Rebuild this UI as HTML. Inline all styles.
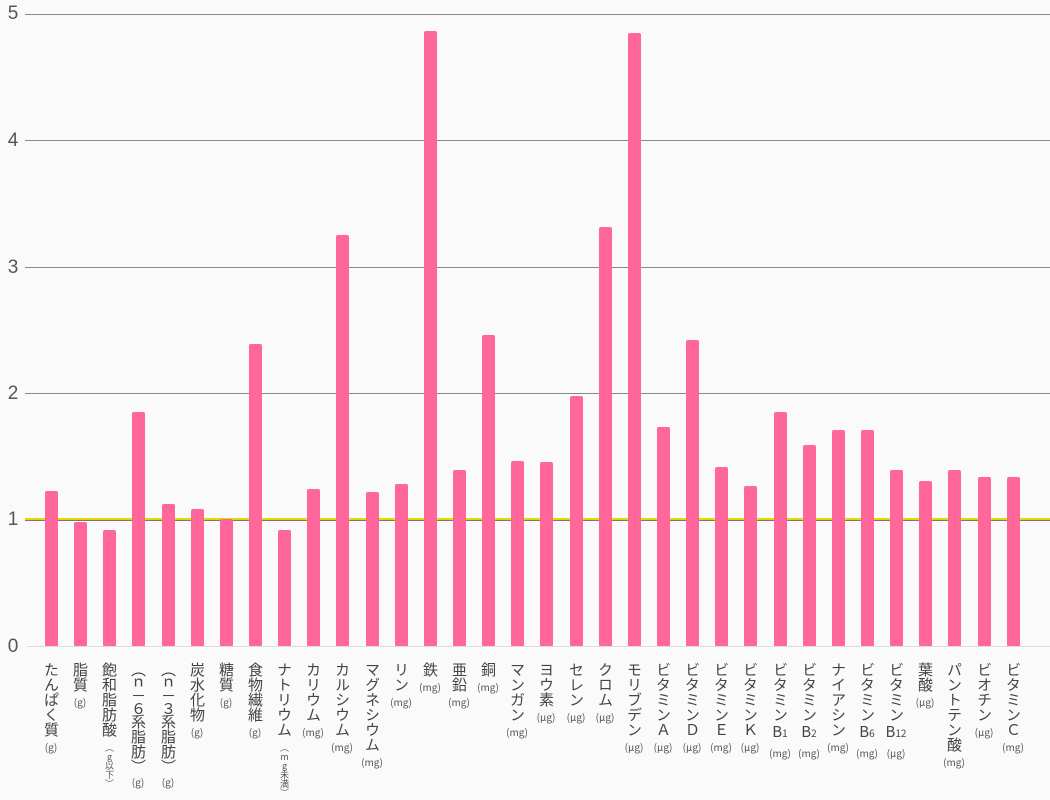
<!DOCTYPE html>
<html><head><meta charset="utf-8"><style>
body{margin:0;background:#fafafa;width:1050px;height:800px;overflow:hidden;position:relative;font-family:"Liberation Sans","Noto Sans CJK JP",sans-serif;color:#444}
.g{position:absolute;left:25px;width:1025px;height:1px;background:#888}
.yl{position:absolute;left:6px;font-size:19px;color:#555;width:14px;text-align:center}
.b{position:absolute;width:13px;background:#ff6699;border-radius:2px 2px 1px 1px;bottom:154px}
.l{position:absolute;top:662px;width:24px;writing-mode:vertical-rl;text-orientation:upright;font-family:"Noto Sans CJK JP",sans-serif;font-size:15px;line-height:24px;color:#444}
.u{font-size:9px;color:#555}
.h{display:inline-block;writing-mode:horizontal-tb;font-size:10px;line-height:13px;color:#555;margin-top:3px}
.bb{display:inline-block;writing-mode:horizontal-tb;font-size:15px;line-height:20px;white-space:nowrap}
.bb small{font-size:10px}
.t{letter-spacing:-2px}
</style></head><body>
<div class="g" style="top:14px"></div>
<div class="g" style="top:140px"></div>
<div class="g" style="top:267px"></div>
<div class="g" style="top:393px"></div>
<div class="g" style="background:#e8d800;height:2px;top:518px"></div>
<div class="g" style="background:#777;height:1px;top:520px"></div>
<div class="g" style="top:646px;background:#ddd;left:27px"></div>
<div class="yl" style="top:3px">5</div>
<div class="yl" style="top:130px">4</div>
<div class="yl" style="top:257px">3</div>
<div class="yl" style="top:383px">2</div>
<div class="yl" style="top:509px">1</div>
<div class="yl" style="top:636px">0</div>

<div class="b" style="left:45px;height:155px"></div>
<div class="b" style="left:74px;height:124px"></div>
<div class="b" style="left:103px;height:116px"></div>
<div class="b" style="left:132px;height:234px"></div>
<div class="b" style="left:162px;height:142px"></div>
<div class="b" style="left:191px;height:137px"></div>
<div class="b" style="left:220px;height:127px"></div>
<div class="b" style="left:249px;height:302px"></div>
<div class="b" style="left:278px;height:116px"></div>
<div class="b" style="left:307px;height:157px"></div>
<div class="b" style="left:336px;height:411px"></div>
<div class="b" style="left:366px;height:154px"></div>
<div class="b" style="left:395px;height:162px"></div>
<div class="b" style="left:424px;height:615px"></div>
<div class="b" style="left:453px;height:176px"></div>
<div class="b" style="left:482px;height:311px"></div>
<div class="b" style="left:511px;height:185px"></div>
<div class="b" style="left:540px;height:184px"></div>
<div class="b" style="left:570px;height:250px"></div>
<div class="b" style="left:599px;height:419px"></div>
<div class="b" style="left:628px;height:613px"></div>
<div class="b" style="left:657px;height:219px"></div>
<div class="b" style="left:686px;height:306px"></div>
<div class="b" style="left:715px;height:179px"></div>
<div class="b" style="left:744px;height:160px"></div>
<div class="b" style="left:774px;height:234px"></div>
<div class="b" style="left:803px;height:201px"></div>
<div class="b" style="left:832px;height:216px"></div>
<div class="b" style="left:861px;height:216px"></div>
<div class="b" style="left:890px;height:176px"></div>
<div class="b" style="left:919px;height:165px"></div>
<div class="b" style="left:948px;height:176px"></div>
<div class="b" style="left:978px;height:169px"></div>
<div class="b" style="left:1007px;height:169px"></div>

<div class="l" style="left:39px">たんぱく質<span class="h">(g)</span></div>
<div class="l" style="left:68px">脂質<span class="h">(g)</span></div>
<div class="l" style="left:97px">飽和脂肪酸<span class="u" style="margin-top:6px">（g以下）</span></div>
<div class="l" style="left:126px"><span class="t">（ｎ－６</span>系脂肪<span class="t">）</span><span class="h">(g)</span></div>
<div class="l" style="left:156px"><span class="t">（ｎ－３</span>系脂肪<span class="t">）</span><span class="h">(g)</span></div>
<div class="l" style="left:185px">炭水化物<span class="h">(g)</span></div>
<div class="l" style="left:214px">糖質<span class="h">(g)</span></div>
<div class="l" style="left:243px">食物繊維<span class="h">(g)</span></div>
<div class="l" style="left:272px">ナトリウム<span class="u" style="margin-top:6px">（mg未満）</span></div>
<div class="l" style="left:301px">カリウム<span class="h">(mg)</span></div>
<div class="l" style="left:330px">カルシウム<span class="h">(mg)</span></div>
<div class="l" style="left:360px">マグネシウム<span class="h">(mg)</span></div>
<div class="l" style="left:389px">リン<span class="h">(mg)</span></div>
<div class="l" style="left:418px">鉄<span class="h">(mg)</span></div>
<div class="l" style="left:447px">亜鉛<span class="h">(mg)</span></div>
<div class="l" style="left:476px">銅<span class="h">(mg)</span></div>
<div class="l" style="left:505px">マンガン<span class="h">(mg)</span></div>
<div class="l" style="left:534px">ヨウ素<span class="h">(μg)</span></div>
<div class="l" style="left:564px">セレン<span class="h">(μg)</span></div>
<div class="l" style="left:593px">クロム<span class="h">(μg)</span></div>
<div class="l" style="left:622px">モリブデン<span class="h">(μg)</span></div>
<div class="l" style="left:651px">ビタミンＡ<span class="h">(μg)</span></div>
<div class="l" style="left:680px">ビタミンＤ<span class="h">(μg)</span></div>
<div class="l" style="left:709px">ビタミンＥ<span class="h">(mg)</span></div>
<div class="l" style="left:738px">ビタミンＫ<span class="h">(μg)</span></div>
<div class="l" style="left:768px">ビタミン<span class="bb">B<small>1</small></span><span class="h">(mg)</span></div>
<div class="l" style="left:797px">ビタミン<span class="bb">B<small>2</small></span><span class="h">(mg)</span></div>
<div class="l" style="left:826px">ナイアシン<span class="h">(mg)</span></div>
<div class="l" style="left:855px">ビタミン<span class="bb">B<small>6</small></span><span class="h">(mg)</span></div>
<div class="l" style="left:884px">ビタミン<span class="bb">B<small>12</small></span><span class="h">(μg)</span></div>
<div class="l" style="left:913px">葉酸<span class="h">(μg)</span></div>
<div class="l" style="left:942px">パントテン酸<span class="h">(mg)</span></div>
<div class="l" style="left:972px">ビオチン<span class="h">(μg)</span></div>
<div class="l" style="left:1001px">ビタミンＣ<span class="h">(mg)</span></div>
</body></html>
